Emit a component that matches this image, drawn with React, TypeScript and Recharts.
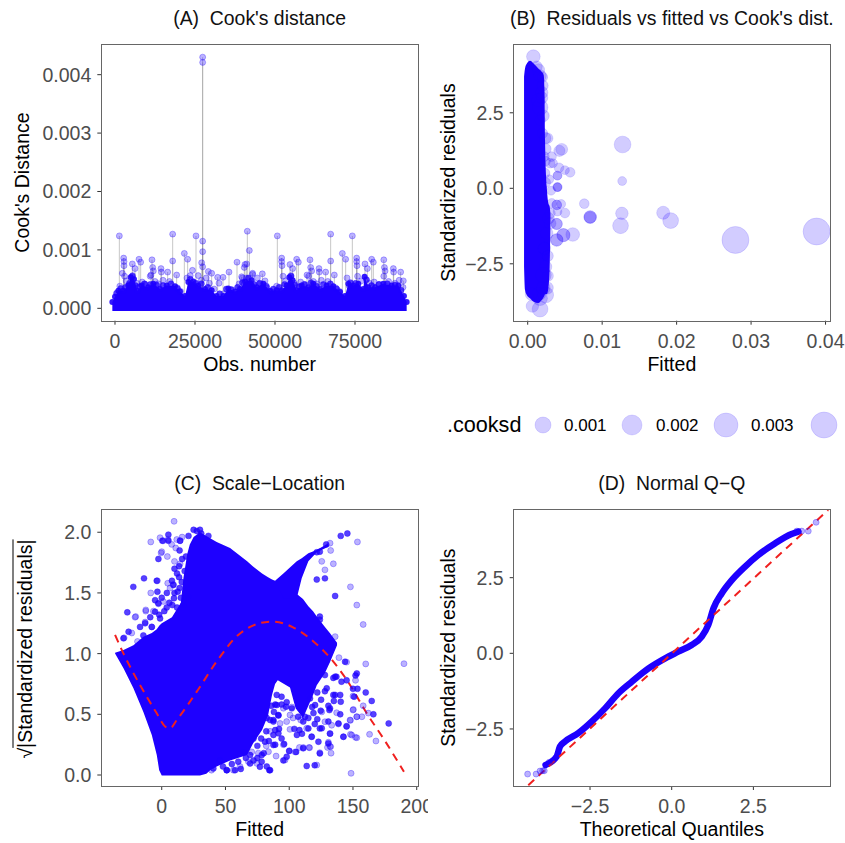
import React from 'react';
import { ComposedChart, XAxis, YAxis, ZAxis, Area, Line, Scatter, Label } from 'recharts';

const BLUE = '#1e00ff';
const RED = '#f0201f';
const FONT = '"Liberation Sans", Arial, sans-serif';

// (A) Cook's distance
const cooksMass = [
  [-830, .00011], [0, .0002], [1040, .0003], [2600, .0003], [4170, .00039], [4900, .00053], [5940, .0005], [6980, .0003],
  [8330, .00039], [10420, .00036], [11980, .00042], [14060, .00033], [16150, .00039], [18750, .00038], [20310, .00029], [21880, .00021],
  [22920, .00045], [24480, .00046], [26040, .00039], [28130, .00033], [30210, .00031], [31770, .00021], [33850, .00021], [35420, .00034],
  [37500, .00029], [39060, .00033], [40630, .00046], [42710, .00048], [44270, .00036], [46350, .00042], [48440, .0003], [50520, .00031],
  [52080, .00031], [53650, .00039], [54480, .00053], [55520, .00048], [56770, .00031], [58330, .00039], [60420, .00036], [61980, .00042],
  [64060, .00033], [66150, .00039], [68230, .00038], [70310, .00028], [71880, .00021], [72920, .00042], [74480, .00039], [76040, .00042],
  [77600, .00033], [78000, .00054], [79170, .00036], [81250, .00036], [83850, .00042], [86460, .00039], [88540, .00039], [90300, .00021], [91150, .00011],
];
const cooksDeep = [
  [500, .00026], [1800, .00034], [3300, .00036], [4500, .00043], [5400, .00055], [6400, .00039], [7600, .00037], [9200, .00042], [11000, .00041], [13000, .0004],
  [15000, .00039], [17500, .00042], [19500, .00034], [23500, .0005], [25300, .00043], [27000, .00042], [29000, .00036], [32700, .00025], [34800, .00033], [36300, .00032],
  [38300, .00036], [39800, .00044], [41700, .00052], [43500, .00041], [45300, .00043], [47300, .00038], [49500, .00033], [51300, .00036], [53000, .00041], [55000, .00055],
  [56200, .0004], [57600, .00037], [59300, .00041], [61200, .00044], [63000, .00038], [65100, .00041], [67300, .00042], [69300, .00033], [73600, .00044], [75200, .00043],
  [78600, .00049], [80200, .00039], [82500, .00041], [85100, .00042], [87500, .0004], [89400, .00031],
];
const cooksPeaks = [
  [1354, .00124], [18021, .00127], [25313, .00124], [27396, .0043], [27396, .00421], [27396, .00115], [27396, .00097], [27083, .00078],
  [27396, .00071], [41354, .00132], [41979, .00099], [50729, .00124], [67396, .00127], [74167, .00124], [71042, .00094], [72083, .00084],
  [21667, .00094], [22708, .00084], [2708, .00086], [2813, .0008], [2813, .00073], [5417, .00076], [6250, .00068], [7500, .00084], [8021, .00079],
  [11563, .00083], [11771, .0007], [11979, .00064], [11250, .00057], [14375, .00068], [14480, .00062], [16458, .00062], [18021, .00081], [19271, .00057],
  [38125, .00079], [40625, .00075], [41146, .00076], [40400, .0007], [39580, .00054], [35625, .00062], [32083, .00053], [33750, .00053],
  [29167, .00063], [30208, .0006], [43000, .0006], [46042, .00059], [46875, .00047], [52083, .00086], [52083, .0008], [52190, .00073],
  [54688, .00075], [55521, .00068], [56771, .00084], [57292, .00079], [60938, .00083], [61150, .0007], [61458, .00064], [60000, .00057],
  [63750, .00068], [63850, .00062], [65833, .00062], [67396, .00081], [68542, .00057], [75521, .00086], [75521, .0008], [75625, .00073],
  [78125, .00076], [78855, .00068], [80208, .00084], [80729, .00079], [84000, .00083], [84200, .0007], [84400, .00064], [86980, .00068],
  [87080, .00062], [89271, .00062], [90104, .00047],
];
const cooksFringe = [
  [1500, .00038], [3000, .00055], [3500, .00047], [2300, .0006], [4500, .0004], [5500, .00056], [6800, .00043], [8500, .00045], [9500, .00041],
  [11000, .00055], [12500, .00046], [13500, .00042], [15000, .00048], [17000, .00046], [19500, .00035], [20500, .00029], [22500, .00052],
  [23500, .00056], [24200, .00065], [26000, .00056], [27000, .00048], [28500, .00052], [29500, .00043], [31000, .00033], [32500, .00043],
  [34000, .00025], [36500, .00032], [38800, .00042], [39800, .00052], [41000, .00052], [43000, .00058], [44500, .00052], [45000, .00042],
  [47500, .00035], [49000, .00028], [50500, .00038], [52500, .00055], [53300, .00047], [55000, .00056], [56000, .00043], [58000, .00045],
  [59000, .00041], [60500, .00055], [62000, .00046], [63000, .00042], [64500, .00048], [66500, .00046], [69000, .00035], [70200, .00029],
  [72500, .00052], [73200, .00038], [75800, .00055], [77000, .00047], [79500, .00043], [81000, .00045], [82500, .00041], [84000, .00055],
  [85500, .00046], [87500, .00043], [88800, .00048], [90000, .00036],
];

// (B) residuals vs fitted, third value is Cook's distance
const residMass = [
  [-.00049, -2.59, 3.7], [-.00036, -3.37, 3.97], [-.00013, -3.53, 4.12], [.00031, -3.64, 4.22], [.00076, -3.75, 4.14], [.00143, -3.8, 3.97],
  [.00188, -3.7, 3.86], [.00215, -3.6, 3.75], [.00225, -3.55, 3.3], [.00233, -3.5, 1.6], [.00256, -3.5, .05], [.00278, -3.3, -.5], [.00295, -2.6, -.6], [.00305, -1.16, -.83],
];
const residBubbles = [
  [.0388, -1.43, .0043], [.0279, -1.71, .0043], [.01274, 1.45, .0014], [.01269, .24, .0001], [.01265, -.83, .0006], [.01247, -1.24, .0012],
  [.0182, -.81, .0007], [.0192, -1.07, .0012], [.0076, -.51, .0002], [.00839, -.95, .0006], [.00839, -.95, .0006], [.00839, -.97, .0005],
  [.00605, -1.53, .0008], [.00457, 1.29, .0005], [.00426, 1.24, .0004], [.0032, 1.05, .0002], [.003, .83, .0002], [.0034, .83, .0001],
  [.0042, .68, .0002], [.005, .6, .0001], [.0057, .53, .0002], [.004, .42, .0001], [.004, .42, .0001], [.004, .04, .0001], [.004, .04, .0001],
  [.004, .04, .0001], [.0039, -.55, .0002], [.0039, -.55, .0002], [.0045, -.52, .0001], [.005, -.82, .0002], [.004, -.77, .0001],
  [.0039, -1.18, .0004], [.0039, -1.18, .0004], [.0048, -1.55, .0007], [.0048, -1.55, .0007], [.0039, -1.71, .0006], [.0039, -1.71, .0006],
  [.00076, 4.36, .0008], [.00166, -4, .0012], [.00063, -3.9, .0006], [.00166, 3.72, .0006], [.00143, 3.92, .0006], [.00121, 4.03, .0004],
  [.00197, 3.68, .0003], [.00188, 3.17, .0006], [.00166, 2.68, .0012], [.00143, 2.92, .0008], [.00166, 2.26, .0003], [.00197, 1.82, .0003],
  [.00233, 1.66, .0005], [.00269, 1.66, .0003], [.00224, 1.05, .0002], [.00233, .5, .0002], [.00242, .19, .0002], [.00314, -.08, .0001],
  [.00323, -.5, .0002], [.003, -.83, .0003], [.00278, -.99, .0005], [.003, -1.16, .0005], [.00256, -1.49, .0006], [.00224, -1.99, .0006],
  [.00269, -2.24, .0004], [.00211, -2.87, .0012], [.00242, -3.53, .0012], [.00166, -3.64, .001],
  [.0021, -3.3, .0008], [.0026, -3.3, .0006], [.0015, -3.5, .0008], [.0005, -3.5, .0006], [.0024, -2.6, .0006], [.0027, -2.9, .0004],
  [.002, 3.4, .0004], [.0019, 3, .0005], [.0021, 2.4, .0005], [.0024, 1.3, .0004], [.0024, .9, .0002], [.0029, .3, .0001],
];
const legendValues = [0.001, 0.002, 0.003, 0.004];

// (C) scale-location
const scaleMass = [
  [-36.6, 1, 1.008], [-30, .88, 1.03], [-22.2, .714, 1.07], [-14.4, .52, 1.14], [-7.8, .33, 1.17], [-3.9, .165, 1.2], [-2, .04, 1.23], [0, -.005, 1.25],
  [8, -.005, 1.3], [15, -.005, 1.42], [17, -.005, 1.62], [20, -.005, 1.82], [22, -.005, 1.9], [25, -.005, 1.96], [30, -.005, 2], [35, .01, 1.97], [38, .04, 1.95], [43.1, .07, 1.92],
  [53.6, .12, 1.87], [67, .165, 1.76], [71.6, .26, 1.717], [78.7, .37, 1.66], [83.4, .49, 1.63], [86.5, .66, 1.61], [88.9, .75, 1.6], [91, .78, 1.59],
  [100.6, .72, 1.55], [105, .55, 1.5], [110.8, .47, 1.45], [115, .57, 1.39], [118.7, .66, 1.35], [121.6, .74, 1.305], [128, .84, 1.22], [132, .93, 1.168], [137.5, 1.07, 1.09],
];
const scaleWing = [
  [88.9, 1.6, 1.6], [95.4, 1.456, 1.66], [105.9, 1.456, 1.76], [109.8, 1.62, 1.786], [115, 1.76, 1.827], [121.6, 1.835, 1.854], [130.7, 1.88, 1.91],
];
const scalePoints = [
  [-8.6, 1.92], [-1.3, 1.955], [1.3, 1.93], [5, 1.94], [9.7, 2.09], [7.8, 1.9], [11.8, 1.94], [16, 1.96], [14.4, 1.93], [0, 1.84], [-.5, 1.83], [4.4, 1.8],
  [11, 1.87], [10, 1.76], [14.4, 1.74], [-3.4, 1.6], [4.7, 1.58], [9.2, 1.57], [-8.6, 1.5], [6.5, 1.54], [1.3, 1.43], [-2.6, 1.41], [-12.5, 1.36], [-20.4, 1.305],
  [-20.9, 1.3], [-12.5, 1.35], [-6.5, 1.35], [-13, 1.26], [-7.8, 1.22], [-23.5, 1.17], [-29.5, 1.13], [-19, 1.1], [132, 1.91], [132.5, 1.85], [134.6, 1.74], [125.5, 1.76],
  [128, 1.69], [148, 1.55], [153, 1.4], [158, 1.24], [160, .915], [190, .917], [153.5, 1.92], [136, 1.14], [139, .967], [145, .93], [152, .78], [150, .65], [158, .57],
  [150, .535], [153, .48], [157, .48], [148, .45], [162, .51], [163, .335], [148, .335], [152, .31], [168, .28], [142.5, .315], [148.5, .014], [100.6, .376], [89.7, .156],
  [83.7, .192], [96.7, .123], [111, .227], [115.5, .227], [108, .227], [121.6, .082], [132, .343], [132.5, .233], [130, .227], [109, .453], [100.6, .494], [92.8, .425],
  [128, .439], [138.6, .42], [133.3, .41], [145, .403], [147.7, .453], [153, .48], [150.3, .54], [137.2, .513], [149, .329], [153, .307], [104.6, .19], [100, .2], [95.4, .25],
  [117.6, .316], [113.7, .385], [125.5, .52], [132, .235], [124, .184], [132.8, .18], [116, .225], [130.7, .27], [85, .36], [82, .24], [70.6, .19], [75.8, .18], [74.5, .096],
  [68, .11], [61.4, .07], [45.8, .12], [39, .04], [56.2, .04], [95.4, .55], [102, .56], [98, .44], [103, .47],
];
const scaleDark = [
  [5.2, 1.98], [.5, 1.93], [5.2, 1.93], [14.4, 1.93], [-2.6, 1.78], [13.6, 1.72], [13.6, 1.63], [15.7, 1.59], [9.1, 1.565], [-13.9, 1.62], [-3.9, 1.6], [-22.3, 1.55],
  [-3.4, 1.51], [12.5, 1.51], [9.6, 1.456], [-5.2, 1.44], [-2.6, 1.415], [-27, 1.34], [-5.2, 1.345], [3.9, 1.38], [8.3, 1.4], [17, 1.4], [-13, 1.25], [-7.8, 1.22],
  [-26, 1.18], [-17, 1.22], [-30, 1.126], [-14.4, 1.15], [-1.3, 1.29], [20.9, 1.47], [25, 2.02], [27.5, 2.01], [30, 2.02], [36.6, 1.97], [31, 1.99], [21, 1.97], [19, 1.8], [18, 1.68],
  [-2, 1.32], [2, 1.35], [6, 1.42], [10, 1.5], [14, 1.54], [12, 1.38], [15, 1.46], [-9, 1.3], [0, 1.46], [4, 1.5], [8, 1.6], [12, 1.66], [16, 1.78], [14, 1.85], [10, 1.7],
  [140.4, 1.97], [145.6, 1.99], [129, 1.9], [124, 1.84], [121.6, 1.835], [121.6, 1.61], [128, 1.62], [136, 1.475], [124, 1.305], [124, 1.28], [40.5, .054], [51, .04], [57.5, .04],
  [69.3, .164], [69.3, .095], [77, .068], [84.4, .04], [113.7, .074], [78.4, .164], [81, .274], [87.6, .247], [96, .255], [100, .197], [105.4, .19], [124, .178], [87.6, .33],
  [91.5, .343], [85, .453], [87.6, .453], [91.5, .494], [90.2, .576], [94, .645], [97.5, .563], [102, .549], [112.4, .48], [115, .384], [117.6, .315], [122.9, .274], [130.7, .26],
  [131.5, .535], [124, .384], [142.5, .315], [150.9, .645], [153, .837], [120.3, .576], [116.3, .631], [128, .823], [136, .81], [143.8, .933], [141, .769], [129.4, .714], [132, .549],
  [136, .66], [140.4, .604], [124.7, .53], [134.6, .8], [137, .81], [145, .78], [152, .82], [150, .71], [153.5, .71], [160, .68], [164.7, .61], [166, .5], [178, .425], [145, .4],
  [128, .69], [134.6, .66], [140, .66], [135, .61], [130.7, .57], [119, .51], [115, .47], [125.5, .385], [130.7, .44], [138.6, .425], [140, .5], [132, .34], [120, .08],
  [111, .22], [98, .15], [95.4, .12], [106, .33], [89, .25], [64, .19], [78.4, .11], [85, .04], [82.4, .07], [51, .04], [89, .58], [90.2, .66], [91.5, .49], [89, .37], [87.6, .44],
  [107, .48], [111, .44], [82.4, .47], [72, .3], [75, .24], [78, .3], [82, .36], [84, .28], [75, .14], [80, .18], [66, .14], [72, .12], [60, .11], [55, .09], [48, .07], [62, .05],
  [92, .38], [94, .3], [88, .52], [86, .57], [94, .58], [98, .6], [104, .38], [108, .37], [110, .34], [120, .42], [122, .46], [118, .56], [125, .62], [122, .68],
];
const scaleSmooth = [
  [-36.6, 1.154], [-30, 1], [-23.5, .865], [-11.8, .646], [-3.9, .508], [2.6, .4], [6.5, .385], [11.8, .453], [27.5, .687], [43, .934], [60, 1.154], [69.3, 1.22],
  [86, 1.264], [103, 1.217], [119, 1.1], [134.6, .934], [147.7, .742], [160.8, .508], [173.8, .302], [190, .027],
];

// (D) normal Q-Q
const qqBand = [
  [-3.86, -3.69], [-3.52, -3.41], [-3.42, -3.08], [-3.27, -2.92], [-2.86, -2.64], [-2.45, -2.26], [-2.04, -1.82], [-1.63, -1.32], [-1.22, -.94], [-.71, -.5],
  [-.2, -.165], [.2, .055], [.61, .275], [.92, .55], [1.12, .94], [1.28, 1.49], [1.53, 1.98], [1.84, 2.42], [2.24, 2.86], [2.65, 3.25], [3.16, 3.63], [3.67, 3.94], [3.88, 4.02],
];
const qqTails = [
  [-4.41, -3.99], [-4.15, -3.99], [-4.03, -3.89], [-3.9, -3.88], [-3.95, -3.88], [-3.75, -3.6], [-3.65, -3.55], [3.83, 4.04], [3.98, 4.04], [4.18, 4.04], [4.42, 4.33],
];
const qqLine = [[-4.39, -4.36], [4.79, 4.74]];

const xy = (rows: number[][]) => rows.map(([x, y]) => ({ x, y }));
const xyz = (rows: number[][]) => rows.map(([x, y, z]) => ({ x, y, z }));
const band = (rows: number[][]) => rows.map(([x, lo, hi]) => ({ x, range: [lo, hi] }));
const minus = (s: string) => s.replace('-', '\u2212');

const tickStyle = { fontSize: 19.5, fill: '#4d4d4d', fontFamily: FONT };
const titleLabel = { fontSize: 19.5, fill: '#000', fontFamily: FONT };

function Frame({ left, top, width, height, plot, title, children }: any) {
  return (
    <div style={{ position: 'absolute', left, top, width, height }}>
      {children}
      <div style={{ position: 'absolute', left: plot.l - 0.5, top: plot.t - 0.5, width: width - plot.l - plot.r, height: height - plot.t - plot.b, border: '1px solid #666', pointerEvents: 'none' }} />
      <div style={{ position: 'absolute', left: plot.l - 60, top: 6, width: width - plot.l - plot.r + 120, textAlign: 'center', fontSize: 19.4, lineHeight: '24px', whiteSpace: 'pre', color: '#111' }}>{title}</div>
    </div>
  );
}

function axisX(domain: number[], ticks: number[], fmt: (v: number) => string, h: number, label: string, off: number) {
  return (
    <XAxis type="number" dataKey="x" domain={domain} ticks={ticks} interval={0} allowDataOverflow tickFormatter={fmt} tick={tickStyle}
      tickSize={4} tickMargin={9} axisLine={false} tickLine={{ stroke: '#333' }} height={h}>
      <Label value={label} position="insideBottom" offset={off} style={titleLabel} />
    </XAxis>
  );
}
function axisY(domain: number[], ticks: number[], fmt: (v: number) => string, w: number, label?: string, dx = 0) {
  return (
    <YAxis type="number" domain={domain} ticks={ticks} interval={0} allowDataOverflow tickFormatter={fmt} tick={tickStyle}
      tickSize={4} tickMargin={6} axisLine={false} tickLine={{ stroke: '#333' }} width={w}>
      {label ? <Label value={label} angle={-90} position="insideLeft" offset={dx} style={{ ...titleLabel, textAnchor: 'middle' }} /> : null}
    </YAxis>
  );
}

const pale = { fill: BLUE, fillOpacity: 0.3, stroke: BLUE, strokeOpacity: 0.3, isAnimationActive: false };
const deep = { fill: BLUE, fillOpacity: 0.75, stroke: BLUE, strokeOpacity: 0.4, isAnimationActive: false };
const solid = { stroke: 'none', fill: BLUE, fillOpacity: 1, dot: false, activeDot: false, isAnimationActive: false };

function PanelA() {
  const plot = { l: 101.3, t: 44.3, r: 7, b: 59.3 };
  return (
    <Frame left={0} top={0} width={425} height={380} plot={plot} title="(A)  Cook's distance">
      <ComposedChart width={425} height={380} margin={{ top: plot.t, right: plot.r, bottom: 0, left: 0 }}>
        {axisX([-4281, 94690], [0, 25000, 50000, 75000], (v) => String(v), plot.b, 'Obs. number', 9)}
        {axisY([-.000212, .00452], [0, .001, .002, .003, .004], (v) => v.toFixed(3), plot.l, "Cook's Distance", 22)}
        <ZAxis range={[28, 28]} />
        {/* stems are thin areas so they stay behind the dense band */}
        {cooksPeaks.map(([x, y], i) => (
          <Area key={i} data={band([[x - 150, 0, y], [x + 150, 0, y]])} dataKey="range" type="linear" stroke="none" fill="#8c8c8c" fillOpacity={0.5} dot={false} activeDot={false} isAnimationActive={false} />
        ))}
        <Area data={band(cooksMass.map(([x, y]) => [x, -.000045, y]))} dataKey="range" type="linear" {...solid} />
        <Scatter data={xy(cooksMass)} dataKey="y" fill={BLUE} fillOpacity={0.9} isAnimationActive={false} />
        <Scatter data={xy(cooksDeep)} dataKey="y" {...deep} />
        <Scatter data={xy(cooksFringe)} dataKey="y" {...pale} />
        <Scatter data={xy(cooksPeaks)} dataKey="y" {...pale} />
      </ComposedChart>
    </Frame>
  );
}

function PanelB() {
  const plot = { l: 88.7, t: 44.3, r: 15, b: 59.3 };
  return (
    <Frame left={425} top={0} width={420} height={380} plot={plot} title="(B)  Residuals vs fitted vs Cook's dist.">
      <ComposedChart width={420} height={380} margin={{ top: plot.t, right: plot.r, bottom: 0, left: 0 }}>
        {axisX([-.00188, .0406], [0, .01, .02, .03, .04], (v) => v.toFixed(2), plot.b, 'Fitted', 9)}
        {axisY([-4.384, 4.768], [-2.5, 0, 2.5], (v) => minus(v.toFixed(1)), plot.l, 'Standardized residuals', 23)}
        <ZAxis dataKey="z" domain={[0, .0043]} range={[50, 572]} />
        <Area data={band(residMass)} dataKey="range" type="monotone" {...solid} />
        <Scatter data={xyz(residBubbles)} dataKey="y" fill={BLUE} fillOpacity={0.2} stroke={BLUE} strokeOpacity={0.12} isAnimationActive={false} />
      </ComposedChart>
    </Frame>
  );
}

function PanelC() {
  const plot = { l: 101.3, t: 44.3, r: 10, b: 57 };
  return (
    <Frame left={0} top={465} width={428} height={378} plot={plot} title={'(C)  Scale\u2212Location'}>
      <ComposedChart width={428} height={378} margin={{ top: plot.t, right: plot.r, bottom: 0, left: 0 }}>
        {axisX([-47.4, 201], [0, 50, 100, 150, 200], (v) => String(v), plot.b, 'Fitted', 7)}
        {axisY([-.0906, 2.189], [0, .5, 1, 1.5, 2], (v) => v.toFixed(1), plot.l)}
        <ZAxis range={[28, 28]} />
        <Area data={band(scaleMass)} dataKey="range" {...solid} />
        <Area data={band(scaleWing)} dataKey="range" {...solid} />
        <Scatter data={xy(scalePoints)} dataKey="y" {...pale} />
        <Scatter data={xy(scaleDark)} dataKey="y" {...deep} />
        <Line data={xy(scaleSmooth)} dataKey="y" type="monotone" stroke={RED} strokeWidth={2} strokeDasharray="8 6" dot={false} activeDot={false} isAnimationActive={false} />
      </ComposedChart>
      <div style={{ position: 'absolute', left: 25, top: 184, width: 0, height: 0 }}>
        <div style={{ position: 'absolute', transform: 'translate(-50%,-50%) rotate(-90deg)', fontSize: 19.5, whiteSpace: 'nowrap', color: '#000' }}>
          {'\u221A'}<span style={{ textDecoration: 'overline' }}>|Standardized residuals|</span>
        </div>
      </div>
    </Frame>
  );
}

function PanelD() {
  const plot = { l: 88.7, t: 44.3, r: 15, b: 57 };
  return (
    <Frame left={425} top={465} width={420} height={378} plot={plot} title={'(D)  Normal Q\u2212Q'}>
      <ComposedChart width={420} height={378} margin={{ top: plot.t, right: plot.r, bottom: 0, left: 0 }}>
        {axisX([-4.836, 4.845], [-2.5, 0, 2.5], (v) => minus(v.toFixed(1)), plot.b, 'Theoretical Quantiles', 7)}
        {axisY([-4.385, 4.76], [-2.5, 0, 2.5], (v) => minus(v.toFixed(1)), plot.l, 'Standardized residuals', 23)}
        <ZAxis range={[28, 28]} />
        <Line data={xy(qqBand)} dataKey="y" type="monotone" stroke={BLUE} strokeWidth={6.5} strokeLinecap="round" dot={false} activeDot={false} isAnimationActive={false} />
        <Scatter data={xy(qqTails)} dataKey="y" {...pale} />
        <Line data={xy(qqLine)} dataKey="y" type="linear" stroke={RED} strokeWidth={2} strokeDasharray="8 6" dot={false} activeDot={false} isAnimationActive={false} />
      </ComposedChart>
    </Frame>
  );
}

function SizeLegend() {
  const circles = [{ cx: 543, r: 8 }, { cx: 632, r: 10 }, { cx: 726, r: 12 }, { cx: 824, r: 13 }];
  const labels = [564, 656, 751];
  return (
    <svg width={845} height={60} style={{ position: 'absolute', left: 0, top: 395 }}>
      <text x={447} y={37} fontSize={21.6} fill="#000" fontFamily={FONT}>.cooksd</text>
      {legendValues.map((v, i) => (
        <g key={v}>
          <circle cx={circles[i].cx} cy={30} r={circles[i].r} fill={BLUE} fillOpacity={0.2} stroke={BLUE} strokeOpacity={0.12} />
          {labels[i] ? <text x={labels[i]} y={36} fontSize={17} fill="#000" fontFamily={FONT}>{v.toFixed(3)}</text> : null}
        </g>
      ))}
    </svg>
  );
}

export default function App() {
  return (
    <div style={{ position: 'absolute', left: 0, top: 0, width: 845, height: 843, overflow: 'hidden', background: '#fff', fontFamily: FONT }}>
      <PanelA />
      <PanelB />
      <SizeLegend />
      <PanelC />
      <PanelD />
    </div>
  );
}
